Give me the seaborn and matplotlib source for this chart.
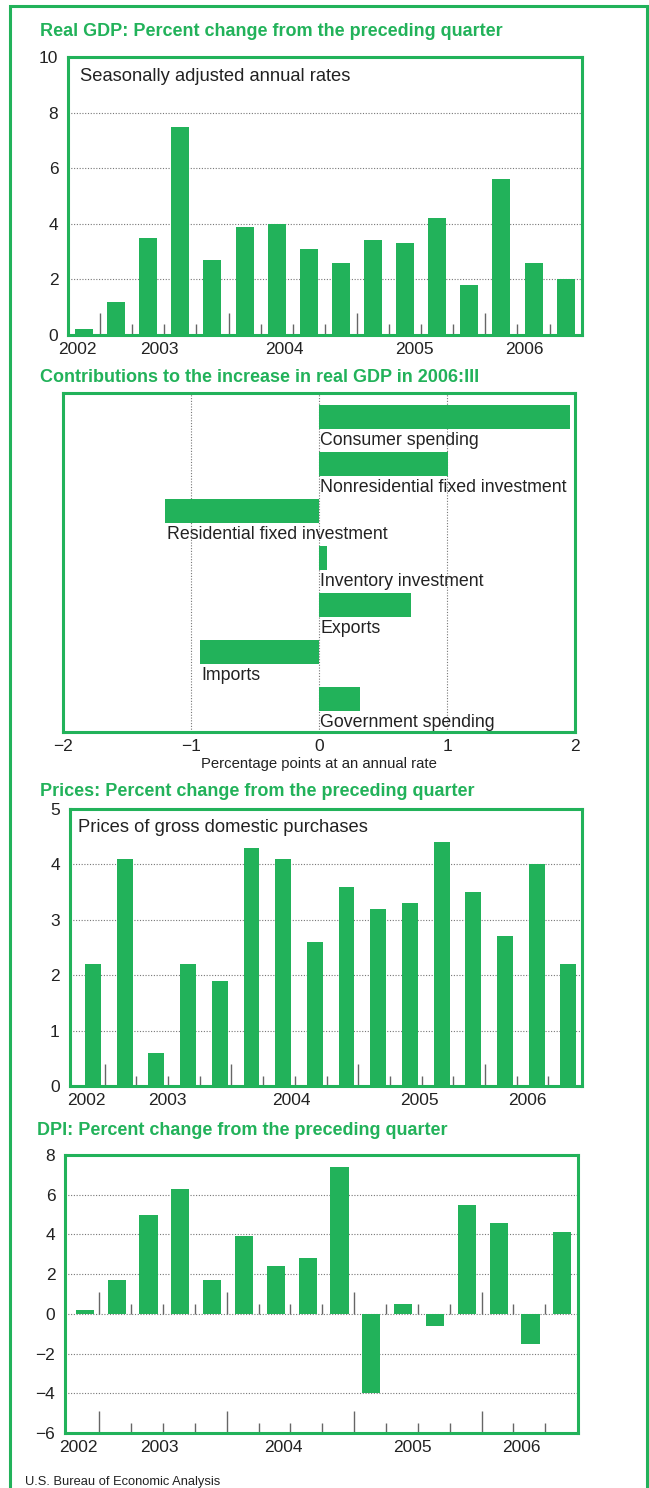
import numpy as np
import pandas as pd
import seaborn as sns
import matplotlib.pyplot as plt
from matplotlib.patches import Rectangle

# quarters 2002:IV - 2006:III
quarters = ['2002:IV',
            '2003:I', '2003:II', '2003:III', '2003:IV',
            '2004:I', '2004:II', '2004:III', '2004:IV',
            '2005:I', '2005:II', '2005:III', '2005:IV',
            '2006:I', '2006:II', '2006:III']
gdp = [0.2, 1.2, 3.5, 7.5, 2.7, 3.9, 4.0, 3.1, 2.6, 3.4, 3.3, 4.2, 1.8, 5.6, 2.6, 2.0]
prices = [2.2, 4.1, 0.6, 2.2, 1.9, 4.3, 4.1, 2.6, 3.6, 3.2, 3.3, 4.4, 3.5, 2.7, 4.0, 2.2]
dpi = [0.2, 1.7, 5.0, 6.3, 1.7, 3.9, 2.4, 2.8, 7.4, -4.0, 0.5, -0.6, 5.5, 4.6, -1.5, 4.1]
year_labels = ['2002', '2003', '2004', '2005', '2006']

components = ['Consumer spending', 'Nonresidential fixed investment',
              'Residential fixed investment', 'Inventory investment',
              'Exports', 'Imports', 'Government spending']
contrib = [1.96, 1.01, -1.20, 0.06, 0.72, -0.93, 0.32]

GREEN = '#22b25a'
TICKC = '#666666'
W, H = 649, 1488

sns.set_style('white')
plt.rcParams['font.family'] = ['Liberation Sans', 'DejaVu Sans']
plt.rcParams['axes.unicode_minus'] = True

fig = plt.figure(figsize=(W / 100, H / 100), dpi=100)


def box(x0, y0, x1, y1):
    return [x0 / W, 1 - y1 / H, (x1 - x0) / W, (y1 - y0) / H]


def style(ax):
    for s in ax.spines.values():
        s.set_visible(True)
        s.set_color(GREEN)
        s.set_linewidth(2.2)
    ax.set_xlabel('')
    ax.set_ylabel('')
    ax.tick_params(length=0, labelsize=12.5, colors='#222222')
    ax.set_axisbelow(True)


def title(y, txt, x=40):
    fig.text(x / W, 1 - y / H, txt, color=GREEN, fontsize=13,
             fontweight='bold', va='baseline', ha='left')


year_pos = [-0.2, 2.35, 6.25, 10.3, 13.7]
grid_kw = dict(color='#777777', linestyle=(0, (1, 1.5)), linewidth=0.8)


def quarter_panel(rect, values, width, xlim, ylim, yticks, tick_off, tick_h,
                  base_levels, first_tick=0):
    ax = fig.add_axes(box(*rect))
    df = pd.DataFrame({'quarter': quarters, 'value': values})
    sns.barplot(data=df, x='quarter', y='value', color=GREEN, saturation=1,
                width=width, linewidth=0, ax=ax, zorder=3)
    style(ax)
    ax.set_xlim(*xlim)
    ax.set_ylim(*ylim)
    ax.set_yticks(yticks)
    ax.yaxis.grid(True, **grid_kw)
    ax.xaxis.grid(False)
    ax.set_xticks(year_pos, year_labels)
    ax.tick_params(axis='x', pad=5)
    ax.tick_params(axis='y', pad=7)
    # quarter separators, tall ones at year boundaries
    idx = np.arange(first_tick, 15)
    pos = idx + tick_off
    heights = np.array([tick_h[0] if i % 4 == 0 else tick_h[1] for i in idx])
    for b in base_levels:
        ax.vlines(pos, b, b + heights, color=TICKC, lw=1, zorder=2)
    return ax


# --- Real GDP ---
title(36.5, 'Real GDP: Percent change from the preceding quarter')
ax1 = quarter_panel((68, 57, 582, 335), gdp, 0.56, (-0.5, 15.51), (0, 10),
                    [0, 2, 4, 6, 8, 10], 0.5, (0.8, 0.4), [0], first_tick=-1)
ax1.text(0.024, 0.93, 'Seasonally adjusted annual rates', transform=ax1.transAxes,
         fontsize=13.2, va='center', ha='left', color='#222222')

# --- Contributions ---
title(382.5, 'Contributions to the increase in real GDP in 2006:III')
ax2 = fig.add_axes(box(63, 393, 575, 732))
dfc = pd.DataFrame({'component': components, 'value': contrib})
sns.barplot(data=dfc, x='value', y='component', orient='h', color=GREEN,
            saturation=1, width=0.51, linewidth=0, ax=ax2, zorder=3)
style(ax2)
ax2.set_xlim(-2, 2)
ax2.set_ylim(6.70, -0.51)
ax2.set_yticks([])
ax2.set_xticks([-2, -1, 0, 1, 2])
ax2.xaxis.grid(True, **grid_kw)
ax2.tick_params(axis='x', pad=5)
ax2.set_xlabel('Percentage points at an annual rate', fontsize=10.7,
               color='#222222', labelpad=2)
for i, (name, v) in enumerate(zip(components, contrib)):
    ax2.text(min(0, v) + 0.01, i + 0.5, name, fontsize=12.8, va='center',
             ha='left', color='#222222')

# --- Prices ---
title(796.5, 'Prices: Percent change from the preceding quarter')
ax3 = quarter_panel((69.5, 809, 582, 1086), prices, 0.5, (-0.74, 15.43), (0, 5),
                    [0, 1, 2, 3, 4, 5], 0.37, (0.4, 0.18), [0])
ax3.text(0.016, 0.935, 'Prices of gross domestic purchases', transform=ax3.transAxes,
         fontsize=13.2, va='center', ha='left', color='#222222')

# --- DPI ---
title(1135, 'DPI: Percent change from the preceding quarter', x=37)
ax4 = quarter_panel((65, 1155, 578, 1433), dpi, 0.57, (-0.62, 15.49), (-6, 8),
                    [-6, -4, -2, 0, 2, 4, 6, 8], 0.46, (1.1, 0.5), [0, -6])

fig.text(25 / W, 1 - 1485 / H, 'U.S. Bureau of Economic Analysis', fontsize=9.3,
         color='#222222', ha='left', va='baseline')

fig.add_artist(Rectangle((10 / W, -0.02), 637 / W, 1.02 - 6 / H, fill=False,
                         edgecolor=GREEN, linewidth=2.2, transform=fig.transFigure,
                         clip_on=False))

fig.savefig('out.png', dpi=100)
